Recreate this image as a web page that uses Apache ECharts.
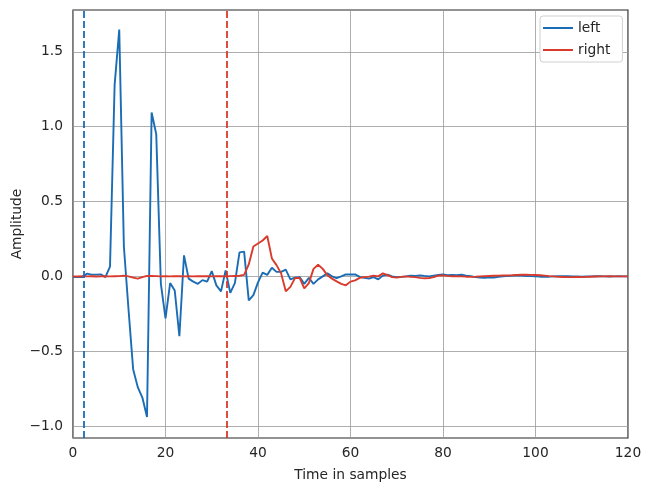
<!DOCTYPE html>
<html>
<head>
<meta charset="utf-8">
<script src="https://cdn.jsdelivr.net/npm/echarts@6/dist/echarts.min.js"></script>
<style>html,body{margin:0;padding:0;background:#fff}#c{width:651px;height:491px}</style>
</head>
<body>
<div id="c"></div>
<script>
const seriesNames = ['left', 'right'];
const onsets = [2.4, 33.3];
const xTicks = [0, 20, 40, 60, 80, 100, 120];
const yTicks = [-1.0, -0.5, 0.0, 0.5, 1.0, 1.5];

const leftValues = [
  -0.005, -0.005, -0.005, 0.018, 0.012, 0.012, 0.013, -0.005, 0.065, 1.28,
  1.65, 0.2, -0.22, -0.62, -0.74, -0.81, -0.94, 1.095, 0.95, -0.05,
  -0.28, -0.045, -0.095, -0.40, 0.14, -0.015, -0.035, -0.05, -0.025, -0.035,
  0.035, -0.06, -0.1, 0.04, -0.11, -0.045, 0.16, 0.165, -0.16, -0.125,
  -0.04, 0.025, 0.01, 0.058, 0.03, 0.03, 0.045, -0.02, -0.008, -0.005,
  -0.05, -0.01, -0.05, -0.02, 0.0, 0.02, 0.0, -0.012, 0.0, 0.013,
  0.013, 0.013, -0.003, -0.01, -0.015, -0.005, -0.02, 0.005, 0.012, 0.0,
  -0.005, -0.003, 0.0, 0.005, 0.003, 0.007, 0.003, 0.0, 0.005, 0.01,
  0.013, 0.008, 0.01, 0.008, 0.011, 0.005, 0.002, -0.005, -0.008, -0.01,
  -0.006, -0.008, -0.003, 0.0, 0.003, 0.005, 0.007, 0.005, 0.003, 0.002,
  0.0, -0.002, -0.003, -0.002, 0.0, 0.001, 0.002, 0.001, 0.0, -0.001,
  -0.002, -0.001, 0.0, 0.001, 0.001, 0.0, -0.001, 0.0, 0.001, 0.0,
  0.0
];

const rightValues = [
  0.0, -0.001, 0.001, 0.0, 0.001, -0.001, 0.0, 0.001, 0.0, 0.001,
  0.002, 0.005, 0.0, -0.008, -0.015, -0.005, 0.003, 0.003, 0.002, 0.0,
  0.001, 0.0, 0.002, 0.001, 0.0, 0.001, 0.0, 0.001, 0.002, 0.001,
  0.0, 0.002, 0.001, 0.0, 0.002, 0.003, 0.004, 0.01, 0.08, 0.2,
  0.22, 0.24, 0.27, 0.12, 0.075, 0.02, -0.1, -0.07, -0.012, -0.01,
  -0.08, -0.045, 0.05, 0.078, 0.05, 0.007, -0.015, -0.033, -0.05, -0.06,
  -0.035, -0.027, -0.01, -0.005, -0.002, 0.005, 0.0, 0.02, 0.008, -0.005,
  -0.008, -0.003, 0.0, -0.003, -0.005, -0.01, -0.013, -0.012, -0.005, 0.005,
  0.007, 0.003, 0.0, 0.001, 0.0, -0.002, -0.003, -0.002, 0.0, 0.002,
  0.003, 0.004, 0.005, 0.006, 0.007, 0.008, 0.01, 0.011, 0.011, 0.01,
  0.009, 0.008, 0.005, 0.002, 0.0, -0.003, -0.004, -0.005, -0.005, -0.004,
  -0.005, -0.003, -0.002, -0.001, 0.0, 0.0, 0.001, 0.0, 0.0, 0.0,
  0.0
];

const colors = ['#1a6db5', '#d93a2b'];
const textColor = '#262626';
const font = 'DejaVu Sans';
const fs = 13.8;

function pairs(vals) { return vals.map((v, i) => [i, v]); }
function fmt(v) {
  const s = v.toFixed(1);
  return s.replace('-', '\u2212');
}

const chart = echarts.init(document.getElementById('c'), null, {renderer: 'canvas'});
chart.setOption({
  animation: false,
  backgroundColor: '#ffffff',
  grid: {left: 73, top: 10, width: 555, height: 428, show: true, borderColor: '#262626', borderWidth: 1.2,
    backgroundColor: '#ffffff', containLabel: false, outerBoundsMode: 'none'},
  legend: {
    data: seriesNames.map((n, i) => ({name: n, icon: 'rect', itemStyle: {color: colors[i]}})),
    orient: 'vertical', left: 540, top: 16,
    itemWidth: 30, itemHeight: 2, itemGap: 8,
    padding: [5, 12, 5, 3],
    backgroundColor: '#ffffff', borderColor: '#d0d0d0', borderWidth: 1, borderRadius: 3,
    textStyle: {fontFamily: font, fontSize: fs, color: textColor}
  },
  xAxis: {
    type: 'value', min: xTicks[0], max: xTicks[xTicks.length - 1], interval: 20,
    name: 'Time in samples', nameLocation: 'middle', nameGap: 30, nameMoveOverlap: false,
    nameTextStyle: {fontFamily: font, fontSize: fs, color: textColor},
    axisLine: {show: false}, axisTick: {show: false},
    axisLabel: {fontFamily: font, fontSize: fs, color: textColor, margin: 8},
    splitLine: {show: true, lineStyle: {color: '#999999', width: 0.8}}
  },
  yAxis: {
    type: 'value', min: -1.08, max: 1.78,
    name: 'Amplitude', nameLocation: 'middle', nameGap: 49, nameRotate: 90, nameMoveOverlap: false,
    nameTextStyle: {fontFamily: font, fontSize: fs, color: textColor},
    axisLine: {show: false},
    axisTick: {show: false, customValues: yTicks},
    axisLabel: {fontFamily: font, fontSize: fs, color: textColor, margin: 10,
      customValues: yTicks, formatter: v => fmt(v)},
    splitLine: {show: true, lineStyle: {color: '#999999', width: 0.8}}
  },
  series: [
    {
      name: seriesNames[0], type: 'line', data: pairs(leftValues), showSymbol: false,
      lineStyle: {color: colors[0], width: 1.9}, itemStyle: {color: colors[0]}, z: 3,
      markLine: {silent: true, symbol: 'none', label: {show: false},
        lineStyle: {color: colors[0], width: 1.8, type: [7, 3]},
        data: [{xAxis: onsets[0]}]}
    },
    {
      name: seriesNames[1], type: 'line', data: pairs(rightValues), showSymbol: false,
      lineStyle: {color: colors[1], width: 1.9}, itemStyle: {color: colors[1]}, z: 4,
      markLine: {silent: true, symbol: 'none', label: {show: false},
        lineStyle: {color: colors[1], width: 1.8, type: [7, 3]},
        data: [{xAxis: onsets[1]}]}
    }
  ]
});
</script>
</body>
</html>
